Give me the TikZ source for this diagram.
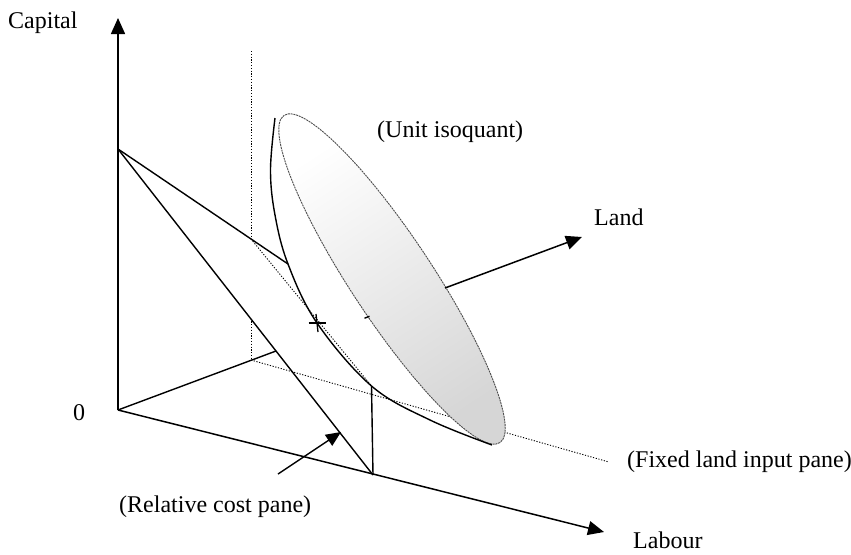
\documentclass[tikz,border=0pt]{standalone}
\usepackage{fontspec}
\setmainfont{Liberation Serif}
\usetikzlibrary{arrows.meta,calc}
\begin{document}
\begin{tikzpicture}[x=1pt,y=-1pt,
  ln/.style={line width=1.4pt, line join=round},
  axisline/.style={line width=1.5pt, -{Triangle[length=16pt,width=14pt]}},
  hid/.style={line width=0.9pt, dash pattern=on 1.2pt off 1.6pt},
  lbl/.style={inner sep=0pt, anchor=base west, font=\fontsize{24}{28}\selectfont}
]
\useasboundingbox (0,0) rectangle (851,554);

% key points
\coordinate (O) at (118,410);
\coordinate (Ktip) at (118,18);
\coordinate (Ltip) at (604,532);
\coordinate (Ttip) at (582,237);
\coordinate (KC) at (118,149);
\coordinate (LC) at (373,475);
\coordinate (UC) at (288,264);
\coordinate (TC) at (276,351);
\coordinate (PT) at (251,51);
\coordinate (PU) at (251,239);
\coordinate (PS) at (251,318.5);
\coordinate (PB) at (251,360);
\coordinate (PE) at (609,462);
\coordinate (VT) at (371.5,386);
\coordinate (X) at (317,323);
\coordinate (Lout) at (445,288);
\coordinate (RA) at (278,474);
\coordinate (RB) at (341,432);
\coordinate (EC) at (392,279);
\coordinate (tk1) at (364.5,318.2);
\coordinate (tk2) at (369.5,316.3);

% hidden (dotted) lines of the fixed land pane
\draw[hid] (PT) -- (PU);
\draw[hid] (PS) -- (PB);
\draw[hid] (PB) -- (PE);
\draw[hid] (PU) -- (VT);

% axes
\draw[axisline] (O) -- (Ktip);
\draw[axisline] (O) -- (Ltip);
\draw[ln] (O) -- (TC);

% relative cost pane
\draw[ln] (KC) -- (LC);
\draw[ln] (KC) -- (UC);
\draw[ln] (VT) -- (LC);

% unit isoquant disc
\draw[draw=black!70, line width=0.9pt, dash pattern=on 2pt off 0.8pt,
      top color=white, bottom color=black!16, shading angle=33,
      rotate around={-56.6:(EC)}]
  (EC) ellipse [x radius=196, y radius=41];

\draw[ln] (tk1) -- (tk2);
\draw[axisline] (Lout) -- (Ttip);

% isoquant curve
\draw[ln] plot[smooth, tension=0.6] coordinates
  {(275,118) (270.5,170) (275,215) (UC) (X) (VT) (430,420) (492,445)};

% tangency mark
\draw[line width=1.3pt] ($(X)+(-8.5,0)$) -- ($(X)+(8.5,0)$);
\draw[line width=1.3pt] ($(X)+(-1,-9)$) -- ($(X)+(1,9)$);

% pointer to cost pane
\draw[line width=1.4pt, -{Triangle[length=15pt,width=13pt]}] (RA) -- (RB);

% labels
\node[lbl] (capital) at (8,28.5) {Capital};
\node[lbl] (zero) at (73,420) {0};
\node[lbl] (labour) at (633,548.5) {Labour};
\node[lbl] (land) at (594,225) {Land};
\node[lbl] (unit) at (377,137) {(Unit isoquant)};
\node[lbl] (fixed) at (627,467) {(Fixed land input pane)};
\node[lbl] (relcost) at (119,512) {(Relative cost pane)};
\end{tikzpicture}
\end{document}
